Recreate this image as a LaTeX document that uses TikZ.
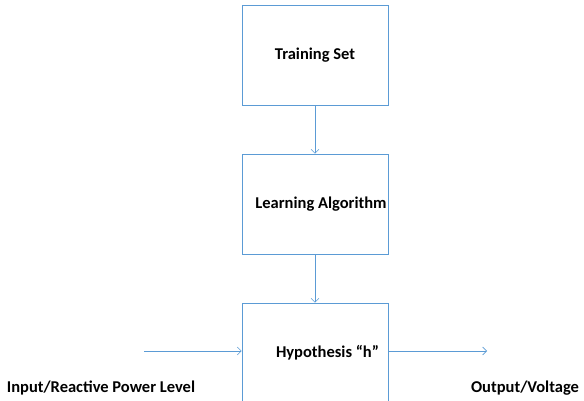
\documentclass[tikz,border=0pt]{standalone}
\usepackage{fontspec}
\setmainfont{Carlito}
\usetikzlibrary{arrows.meta,positioning}
\definecolor{lineblue}{RGB}{91,155,213}
\tikzset{
	block/.style={draw=lineblue, semithick, minimum width=146pt, minimum height=100pt, inner xsep=0pt, font=\bfseries\fontsize{16.5}{19}\selectfont},
	textshift/.style={execute at begin node=\hspace*{#1}},
	flow/.style={draw=lineblue, semithick, -{Straight Barb[length=4pt,width=8pt]}},
	caption/.style={font=\bfseries\fontsize{16.5}{19}\selectfont}
}
\begin{document}
\begin{tikzpicture}[x=1pt,y=-1pt]
	\clip (0,0) rectangle (584,401);
	\node[block] (train) at (315,55) {Training Set};
	\node[block, textshift=12pt] (learn) at (315,204) {Learning Algorithm};
	\node[block, textshift=25pt] (hyp) at (315,353) {Hypothesis ``h''};
	\coordinate (in) at (144,351);
	\coordinate (out) at (487,351);
	\draw[flow] (train) -- (learn);
	\draw[flow] (learn) -- (hyp);
	\draw[flow] (in) -- (in -| hyp.west);
	\draw[flow] (out -| hyp.east) -- (out);
	\node[caption] (inlabel) at (101,388) {Input/Reactive Power Level};
	\node[caption] (outlabel) at (525,388) {Output/Voltage};
\end{tikzpicture}
\end{document}
